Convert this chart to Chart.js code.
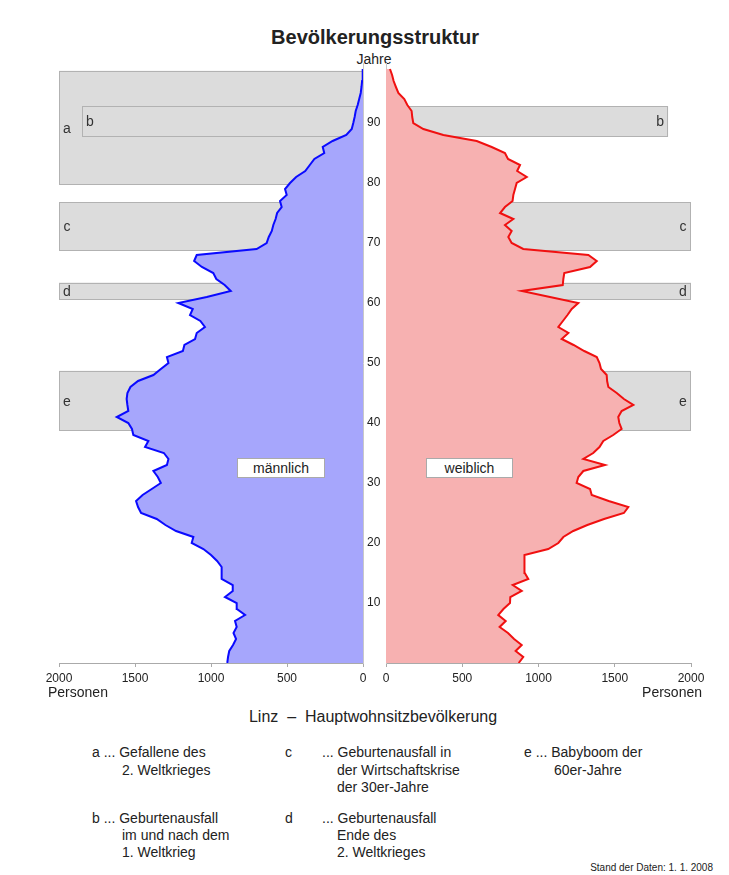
<!DOCTYPE html>
<html lang="de">
<head>
<meta charset="utf-8">
<title>Bevölkerungsstruktur Linz</title>
<script src="https://cdn.jsdelivr.net/npm/chart.js@4.4.1/dist/chart.umd.min.js"></script>
<style>
  body { margin: 0; width: 729px; height: 875px; background: #fff; position: relative; overflow: hidden;
         font-family: "Liberation Sans", Arial, sans-serif; color: #222; }
  canvas { position: absolute; }
  .t { position: absolute; white-space: nowrap; line-height: 1; }
  .tag { position: absolute; background: #fff; border: 1px solid #aaa; box-sizing: border-box;
         text-align: center; font-size: 14px; line-height: 18px; }
</style>
</head>
<body>

<div class="t" style="left:375px; top:27px; transform:translateX(-50%); font-size:20px; font-weight:bold;">Bevölkerungsstruktur</div>
<div class="t" style="left:374px; top:52px; transform:translateX(-50%); font-size:14px;">Jahre</div>

<canvas id="maleChart" width="386" height="643" style="left:0; top:50px;"></canvas>
<canvas id="femaleChart" width="353" height="643" style="left:376px; top:50px;"></canvas>

<div class="tag" style="left:237px; top:458px; width:88px; height:20px;">männlich</div>
<div class="tag" style="left:426px; top:458px; width:87px; height:20px;">weiblich</div>

<div class="t" style="left:48px; top:685px; font-size:14px;">Personen</div>
<div class="t" style="right:27px; top:685px; font-size:14px;">Personen</div>

<div class="t" style="left:373px; top:709px; transform:translateX(-50%); font-size:16px;">Linz &nbsp;–&nbsp; Hauptwohnsitzbevölkerung</div>

<div class="t" style="left:92px; top:745px; font-size:14px;">a ... Gefallene des</div>
<div class="t" style="left:122px; top:763px; font-size:14px;">2. Weltkrieges</div>
<div class="t" style="left:92px; top:811px; font-size:14px;">b ... Geburtenausfall</div>
<div class="t" style="left:122px; top:828px; font-size:14px;">im und nach dem</div>
<div class="t" style="left:122px; top:845px; font-size:14px;">1. Weltkrieg</div>

<div class="t" style="left:285px; top:745px; font-size:14px;">c</div>
<div class="t" style="left:322px; top:745px; font-size:14px;">... Geburtenausfall in</div>
<div class="t" style="left:337px; top:763px; font-size:14px;">der Wirtschaftskrise</div>
<div class="t" style="left:337px; top:780px; font-size:14px;">der 30er-Jahre</div>
<div class="t" style="left:285px; top:811px; font-size:14px;">d</div>
<div class="t" style="left:322px; top:811px; font-size:14px;">... Geburtenausfall</div>
<div class="t" style="left:337px; top:828px; font-size:14px;">Ende des</div>
<div class="t" style="left:337px; top:845px; font-size:14px;">2. Weltkrieges</div>

<div class="t" style="left:524px; top:745px; font-size:14px;">e ... Babyboom der</div>
<div class="t" style="left:554px; top:763px; font-size:14px;">60er-Jahre</div>

<div class="t" style="right:16px; top:863px; font-size:10px;">Stand der Daten: 1. 1. 2008</div>

<script>
// Altersjahre 0 bis 99
const ages = Array.from({length: 100}, (_, i) => i);

// Männer je Altersjahr (0 ... 99)
const maleValues = [
  893, 888, 880, 855, 835, 852, 831, 842, 776, 830,
  831, 908, 857, 857, 930, 930, 930, 960, 1000, 1050,
  1127, 1116, 1230, 1300, 1357, 1460, 1480, 1493, 1450, 1390,
  1330, 1350, 1379, 1290, 1280, 1310, 1434, 1412, 1511, 1520,
  1544, 1620, 1544, 1550, 1555, 1550, 1530, 1480, 1379, 1330,
  1280, 1290, 1185, 1175, 1105, 1094, 1040, 1070, 1138, 1120,
  1215, 1028, 870, 910, 965, 985, 1060, 1111, 1094, 700,
  634, 620, 600, 590, 575, 565, 535, 546, 502, 513,
  480, 440, 380, 350, 320, 255, 265, 200, 110, 74,
  64, 55, 48, 35, 25, 15, 10, 6, 3, 1
];

// Frauen je Altersjahr (0 ... 99)
const femaleValues = [
  870, 900, 850, 890, 840, 800, 745, 785, 736, 770,
  813, 815, 890, 831, 933, 910, 905, 908, 911, 1064,
  1130, 1163, 1228, 1320, 1430, 1560, 1589, 1460, 1349, 1338,
  1250, 1261, 1294, 1436, 1294, 1359, 1400, 1425, 1490, 1545,
  1530, 1523, 1545, 1622, 1560, 1513, 1458, 1450, 1447, 1410,
  1400, 1382, 1300, 1230, 1152, 1196, 1130, 1160, 1190, 1218,
  1261, 1075, 890, 1159, 1163, 1169, 1338, 1382, 1327, 900,
  824, 802, 824, 780, 835, 748, 780, 830, 835, 846,
  857, 923, 860, 879, 800, 780, 693, 595, 376, 245,
  179, 172, 168, 140, 120, 81, 65, 50, 40, 26
];

// markierte Altersbereiche (a ... e)
const markLabels = ['a', 'b', 'c', 'd', 'e'];
const markFrom = [79.7, 87.7, 68.7, 60.6, 38.7];
const markTo = [98.7, 92.8, 76.8, 63.4, 48.7];
const markExtent = [2000, 1850, 2000, 2000, 2000];
const markOnFemale = [false, true, true, true, true];

const xTicks = [0, 500, 1000, 1500, 2000];
const ageTicks = [10, 20, 30, 40, 50, 60, 70, 80, 90];

// graue Balken hinter der Pyramide
const markPlugin = {
  id: 'marks',
  beforeDatasetsDraw(chart, args, opts) {
    const {ctx, scales: {x, y}} = chart;
    ctx.save();
    markLabels.forEach((lab, i) => {
      if (opts.female && !markOnFemale[i]) return;
      const x0 = x.getPixelForValue(0);
      const x1 = x.getPixelForValue(markExtent[i]);
      const top = y.getPixelForValue(markTo[i]);
      const bottom = y.getPixelForValue(markFrom[i]);
      const left = Math.min(x0, x1);
      const w = Math.abs(x1 - x0);
      ctx.fillStyle = '#dcdcdc';
      ctx.fillRect(left, top, w, bottom - top);
      ctx.strokeStyle = '#b2b2b2';
      ctx.lineWidth = 1;
      ctx.strokeRect(Math.round(left) + 0.5, Math.round(top) + 0.5, Math.round(w) - 1, Math.round(bottom - top) - 1);
      ctx.fillStyle = '#333';
      ctx.font = '14px "Liberation Sans", Arial, sans-serif';
      ctx.textAlign = 'center';
      ctx.textBaseline = 'middle';
      ctx.fillText(lab, opts.female ? x1 - 8 : x1 + 8, (top + bottom) / 2 + 1);
    });
    ctx.restore();
  }
};

function makeChart(id, values, isMale) {
  const ctx = document.getElementById(id).getContext('2d');
  return new Chart(ctx, {
    type: 'line',
    data: {
      datasets: [{
        data: ages.map((a, i) => ({x: values[i], y: a})),
        borderColor: isMale ? '#0a0aff' : '#f01010',
        backgroundColor: isMale ? '#a6a6fc' : '#f7b1b1',
        borderWidth: 2,
        pointRadius: 0,
        tension: 0,
        fill: 'origin'
      }]
    },
    options: {
      indexAxis: 'y',
      responsive: false,
      animation: false,
      layout: {
        padding: isMale ? {left: 59, top: 13, right: 0, bottom: 0}
                        : {left: 10, top: 13, right: 38, bottom: 0}
      },
      plugins: {
        legend: {display: false},
        tooltip: {enabled: false},
        marks: {female: !isMale}
      },
      scales: {
        x: {
          type: 'linear',
          min: 0,
          max: 2000,
          reverse: isMale,
          afterBuildTicks: s => { s.ticks = xTicks.map(v => ({value: v})); },
          ticks: {color: '#222', font: {family: '"Liberation Sans", Arial', size: 12}, padding: 4,
                  maxRotation: 0, callback: v => String(v)},
          grid: {drawOnChartArea: false, tickLength: 4, color: '#aaa'},
          border: {color: '#aaa'},
          afterFit: s => { s.height = 30; }
        },
        y: {
          type: 'linear',
          min: 0,
          max: 100,
          position: isMale ? 'right' : 'left',
          afterBuildTicks: s => { s.ticks = ageTicks.map(v => ({value: v})); },
          ticks: {display: isMale, color: '#222', font: {family: '"Liberation Sans", Arial', size: 12},
                  crossAlign: 'center', padding: 4, callback: v => String(v)},
          grid: {drawOnChartArea: false, drawTicks: false},
          border: {color: '#c8c8c8'},
          afterFit: s => { s.width = isMale ? 23 : 0; }
        }
      }
    },
    plugins: [markPlugin]
  });
}

makeChart('maleChart', maleValues, true);
makeChart('femaleChart', femaleValues, false);
</script>
</body>
</html>
